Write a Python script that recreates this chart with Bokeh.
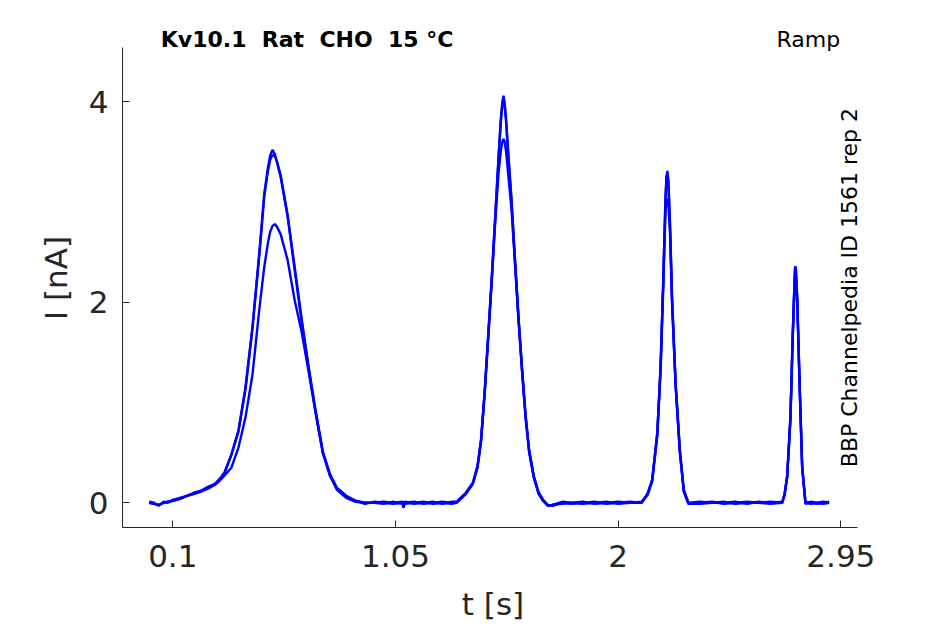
import math
from bokeh.plotting import figure
from bokeh.models import Label, FixedTicker, Range1d, ColumnDataSource
from bokeh.embed import file_html
from bokeh.resources import INLINE

# ---- data (time in s, current in nA) ----
t_seg1 = [0.00, 0.02, 0.04, 0.06, 0.08, 0.10, 0.13, 0.16, 0.19, 0.22, 0.25, 0.28, 0.30, 0.32,
          0.35, 0.38, 0.41, 0.44, 0.47, 0.49, 0.505, 0.515, 0.525, 0.535, 0.545, 0.56, 0.59,
          0.62, 0.65, 0.68, 0.71, 0.74, 0.77, 0.80, 0.84, 0.88, 0.92]
t_seg2 = [0.96, 1.00, 1.04, 1.08, 1.085, 1.09, 1.13, 1.17, 1.21, 1.25, 1.29, 1.31, 1.35, 1.38,
          1.40, 1.415, 1.43, 1.445, 1.46, 1.475, 1.49, 1.50, 1.506, 1.511, 1.516, 1.522, 1.53,
          1.545, 1.56, 1.575, 1.59, 1.605, 1.62, 1.64, 1.66, 1.68, 1.70, 1.72]
t_seg3 = [1.76, 1.80, 1.85, 1.90, 1.95, 2.00, 2.05, 2.10, 2.125, 2.145, 2.167, 2.181, 2.192,
          2.202, 2.206, 2.210, 2.214, 2.221, 2.23, 2.245, 2.263, 2.28, 2.30]
t_seg4 = [2.35, 2.40, 2.45, 2.50, 2.55, 2.60, 2.65, 2.70, 2.71, 2.721, 2.735, 2.745, 2.752,
          2.755, 2.758, 2.764, 2.774, 2.785, 2.799, 2.82, 2.85, 2.875, 2.90]

i_a_seg1 = [0.00, -0.01, -0.02, 0.00, 0.01, 0.02, 0.04, 0.07, 0.09, 0.12, 0.15, 0.19, 0.23, 0.29,
            0.48, 0.72, 1.15, 1.76, 2.52, 3.08, 3.33, 3.46, 3.52, 3.48, 3.39, 3.25, 2.85,
            2.32, 1.80, 1.33, 0.89, 0.50, 0.28, 0.14, 0.06, 0.02, 0.00]
i_a_seg2 = [0.00, -0.01, 0.01, -0.01, -0.05, 0.00, 0.01, -0.01, 0.00, 0.01, 0.00, 0.00, 0.09, 0.19,
            0.36, 0.62, 1.08, 1.63, 2.20, 2.82, 3.46, 3.85, 4.00, 4.06, 3.98, 3.80, 3.50,
            3.00, 2.40, 1.83, 1.32, 0.86, 0.52, 0.26, 0.10, 0.02, -0.03, -0.02]
i_a_seg3 = [-0.01, 0.00, 0.01, -0.01, 0.00, 0.01, 0.00, 0.01, 0.08, 0.22, 0.69, 1.35, 2.18,
            3.02, 3.24, 3.31, 3.22, 2.78, 2.02, 1.19, 0.52, 0.12, -0.01]
i_a_seg4 = [0.00, 0.01, -0.01, 0.00, 0.01, 0.00, 0.01, 0.00, 0.08, 0.26, 0.85, 1.69, 2.18,
            2.36, 2.34, 2.02, 1.19, 0.36, 0.00, -0.01, 0.00, 0.01, 0.00]

i_b_seg1 = [0.01, 0.00, -0.03, 0.01, 0.00, 0.03, 0.05, 0.07, 0.10, 0.12, 0.16, 0.19, 0.24, 0.30,
            0.48, 0.71, 1.13, 1.74, 2.49, 3.05, 3.30, 3.42, 3.47, 3.46, 3.40, 3.27, 2.87,
            2.35, 1.83, 1.35, 0.91, 0.51, 0.29, 0.15, 0.07, 0.02, -0.01]
i_b_seg2 = [0.01, 0.00, -0.01, 0.00, 0.00, 0.01, -0.01, 0.00, 0.01, -0.01, 0.01, 0.01, 0.10, 0.20,
            0.37, 0.63, 1.10, 1.65, 2.22, 2.84, 3.45, 3.82, 3.97, 4.02, 3.96, 3.82, 3.53,
            3.03, 2.43, 1.85, 1.34, 0.88, 0.53, 0.27, 0.11, 0.03, -0.02, -0.03]
i_b_seg3 = [0.00, -0.01, 0.00, 0.01, -0.01, 0.00, 0.01, 0.00, 0.09, 0.23, 0.70, 1.36, 2.20,
            3.05, 3.25, 3.28, 3.20, 2.80, 2.05, 1.20, 0.53, 0.13, 0.00]
i_b_seg4 = [0.01, 0.00, 0.00, 0.01, -0.01, 0.01, 0.00, 0.01, 0.09, 0.27, 0.86, 1.70, 2.17,
            2.34, 2.33, 2.04, 1.21, 0.37, 0.01, 0.00, -0.01, 0.00, 0.01]

i_c_seg1 = [0.00, -0.01, -0.02, 0.00, 0.01, 0.02, 0.04, 0.07, 0.09, 0.11, 0.14, 0.18, 0.22, 0.27,
            0.35, 0.55, 0.85, 1.28, 1.95, 2.35, 2.58, 2.70, 2.76, 2.78, 2.75, 2.68, 2.42,
            2.02, 1.70, 1.30, 0.89, 0.50, 0.27, 0.13, 0.05, 0.01, 0.00]
i_c_seg2 = [0.00, 0.01, 0.00, 0.01, -0.01, -0.01, 0.00, 0.01, -0.01, 0.00, -0.01, 0.00, 0.09, 0.19,
            0.35, 0.61, 1.07, 1.62, 2.18, 2.78, 3.30, 3.52, 3.60, 3.63, 3.60, 3.50, 3.30,
            2.93, 2.38, 1.82, 1.31, 0.85, 0.51, 0.25, 0.09, 0.02, -0.03, -0.02]
i_c_seg3 = [0.01, 0.00, -0.01, 0.00, 0.01, -0.01, 0.00, 0.00, 0.08, 0.21, 0.67, 1.32, 2.12,
            2.92, 3.01, 3.03, 2.98, 2.70, 1.98, 1.17, 0.51, 0.11, -0.01]
i_c_seg4 = [-0.01, 0.00, 0.01, -0.01, 0.00, 0.00, -0.01, 0.00, 0.08, 0.25, 0.83, 1.65, 2.12,
            2.30, 2.29, 1.99, 1.17, 0.35, -0.01, 0.01, 0.00, -0.01, 0.00]

x_ticks = [0.1, 1.05, 2.0, 2.95]
x_tick_labels = ["0.1", "1.05", "2", "2.95"]
y_ticks = [0, 2, 4]
y_tick_labels = ["0", "2", "4"]

# double gaps kept with no-break spaces so the SVG text does not collapse them
title_text = "Kv10.1\u00a0 Rat\u00a0 CHO\u00a0 15 \u00b0C"
protocol_text = "Ramp"
source_text = "BBP Channelpedia ID 1561 rep 2"
x_label = "t [s]"
y_label = "I [nA]"

# ---- build ----
t_all = t_seg1 + t_seg2 + t_seg3 + t_seg4
traces = [
    i_a_seg1 + i_a_seg2 + i_a_seg3 + i_a_seg4,
    i_b_seg1 + i_b_seg2 + i_b_seg3 + i_b_seg4,
    i_c_seg1 + i_c_seg2 + i_c_seg3 + i_c_seg4,
]

FONT = "DejaVu Sans"
TXT = "#262626"

X0, X1, XA = -0.1146, 3.0467, 3.0198     # frame x range, axis end
Y0, Y1, YA = -0.2464, 4.731, 4.54        # frame y range, axis end

p = figure(width=945, height=624, output_backend="svg", toolbar_location=None,
           x_range=Range1d(X0, X1), y_range=Range1d(Y0, Y1),
           min_border_left=122, min_border_right=82, min_border_top=28,
           min_border_bottom=97)
p.outline_line_color = None
p.xgrid.visible = False
p.ygrid.visible = False
p.background_fill_color = "white"
p.border_fill_color = "white"

for tr in traces:
    src = ColumnDataSource(dict(t=t_all, i=tr))
    p.line("t", "i", source=src, line_color="#0000ff", line_width=2.4)

for ax in (p.xaxis[0], p.yaxis[0]):
    ax.axis_line_color = TXT
    ax.major_tick_line_color = TXT
    ax.major_tick_in = 7
    ax.major_tick_out = 0
    ax.minor_tick_line_color = None
    ax.major_label_text_font = FONT
    ax.major_label_text_font_size = "31px"
    ax.major_label_text_color = TXT
    ax.axis_label_text_font = FONT
    ax.axis_label_text_font_size = "31px"
    ax.axis_label_text_font_style = "normal"
    ax.axis_label_text_color = TXT

p.xaxis[0].bounds = (X0, XA)
p.yaxis[0].bounds = (Y0, YA)
p.xaxis[0].ticker = FixedTicker(ticks=x_ticks)
p.xaxis[0].major_label_overrides = {tv: lab for tv, lab in zip(x_ticks, x_tick_labels)}
p.yaxis[0].ticker = FixedTicker(ticks=y_ticks)
p.yaxis[0].major_label_overrides = {tv: lab for tv, lab in zip(y_ticks, y_tick_labels)}
p.xaxis[0].axis_label = x_label
p.yaxis[0].axis_label = y_label
p.xaxis[0].major_label_standoff = 17
p.xaxis[0].axis_label_standoff = 16
p.yaxis[0].major_label_standoff = 14
p.yaxis[0].axis_label_standoff = 12

p.add_layout(Label(x=0.673, y=4.619, text=title_text, text_align="center",
                   text_baseline="alphabetic", text_font=FONT, text_font_size="22px",
                   text_font_style="bold", text_color="black"))
p.add_layout(Label(x=2.6755, y=4.625, text=protocol_text, text_align="left",
                   text_baseline="alphabetic", text_font=FONT, text_font_size="22px",
                   text_color="black"))
p.add_layout(Label(x=2.988, y=0.355, text=source_text, angle=math.pi / 2,
                   text_align="left", text_baseline="alphabetic", text_font=FONT,
                   text_font_size="22px", text_color="black"))

open("out.html", "w").write(file_html(p, INLINE))
